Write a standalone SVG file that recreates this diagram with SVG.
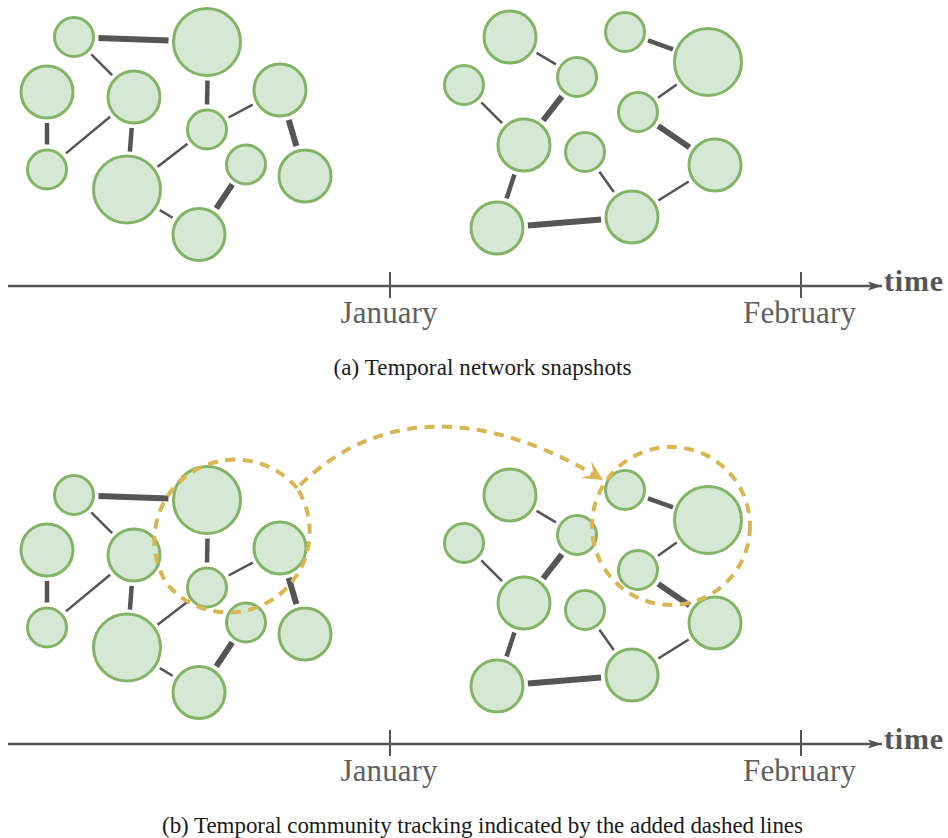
<svg xmlns="http://www.w3.org/2000/svg" width="948" height="838" viewBox="0 0 948 838">
  <style>
    .node circle { fill: #d5e8d4; stroke: #82b366; stroke-width: 3; }
    .edges line { stroke: #555555; stroke-linecap: butt; }
    .e1 { stroke-width: 2.5; }
    .e2 { stroke-width: 4.5; }
    .e3 { stroke-width: 6; }
    .axis { stroke: #555555; stroke-width: 2.3; fill: none; }
    .tick { stroke: #555555; stroke-width: 2; }
    .month { font-family: "Liberation Serif", "Times New Roman", serif; font-size: 31px; fill: #606060; }
    .time { font-family: "Liberation Serif", "Times New Roman", serif; font-size: 30px; font-weight: bold; fill: #555555; }
    .caption { font-family: "Liberation Serif", "Times New Roman", serif; font-size: 23px; fill: #1a1a1a; text-anchor: middle; }
    .track { fill: none; stroke: #d9b654; stroke-width: 4; stroke-dasharray: 10 7.5; }
  </style>
  <defs>
    <marker id="axis-arrow" markerUnits="userSpaceOnUse" viewBox="-16 -6 17 12" refX="0" refY="0" markerWidth="17" markerHeight="12" orient="auto">
      <path d="M0,0 L-14,-4.5 L-11,0 L-14,4.5 Z" fill="#555555"/>
    </marker>
    <marker id="track-arrow" markerUnits="userSpaceOnUse" viewBox="-22 -12 23 24" refX="0" refY="0" markerWidth="23" markerHeight="24" orient="auto">
      <path d="M0,0 L-20,-10 L-11,0 L-20,10 Z" fill="#d9b654"/>
    </marker>
  </defs>

  <!-- ===== Panel (a): snapshots ===== -->
  <g id="panel-a">
    <g id="a-edges" class="edges">
      <!-- January -->
      <line class="e3" x1="98.5" y1="37.9" x2="168.5" y2="40.6"/>
      <line class="e1" x1="91.3" y1="54.3" x2="112.1" y2="75.1"/>
      <line class="e2" x1="47" y1="123" x2="47" y2="144.5"/>
      <line class="e1" x1="110.1" y1="116.8" x2="65.9" y2="153.4"/>
      <line class="e2" x1="131.7" y1="127.9" x2="129.9" y2="151.6"/>
      <line class="e2" x1="207.5" y1="80.5" x2="207" y2="104.5"/>
      <line class="e1" x1="228.6" y1="117.5" x2="252.7" y2="104.6"/>
      <line class="e1" x1="187.5" y1="143.8" x2="157.6" y2="166.7"/>
      <line class="e3" x1="288.7" y1="119.8" x2="296.4" y2="146.2"/>
      <line class="e1" x1="159.8" y1="210.1" x2="172.6" y2="217.8"/>
      <line class="e3" x1="232.3" y1="184.3" x2="216.3" y2="208.3"/>
      <!-- February -->
      <line class="e1" x1="536.6" y1="52.9" x2="556" y2="64.4"/>
      <line class="e2" x1="648" y1="40.3" x2="673" y2="49.3"/>
      <line class="e1" x1="676.7" y1="84.4" x2="658" y2="97.8"/>
      <line class="e1" x1="481.3" y1="102.3" x2="502.1" y2="123.1"/>
      <line class="e3" x1="561.9" y1="96.3" x2="543.1" y2="120.5"/>
      <line class="e3" x1="658.2" y1="125.9" x2="689.5" y2="147.4"/>
      <line class="e2" x1="514.4" y1="174.5" x2="506.6" y2="198.5"/>
      <line class="e3" x1="527.9" y1="225.5" x2="601.1" y2="219.5"/>
      <line class="e1" x1="599.4" y1="171.8" x2="613.8" y2="191.9"/>
      <line class="e1" x1="658.3" y1="200.5" x2="688.7" y2="181.5"/>
    </g>

    <g id="a-j1" class="node"><circle cx="74" cy="37" r="19.5"/></g>
    <g id="a-j2" class="node"><circle cx="207" cy="42" r="33.5"/></g>
    <g id="a-j3" class="node"><circle cx="47" cy="92" r="26"/></g>
    <g id="a-j4" class="node"><circle cx="134" cy="97" r="26"/></g>
    <g id="a-j5" class="node"><circle cx="207" cy="129.5" r="19.5"/></g>
    <g id="a-j6" class="node"><circle cx="280" cy="90" r="26"/></g>
    <g id="a-j7" class="node"><circle cx="47" cy="169.5" r="19.5"/></g>
    <g id="a-j8" class="node"><circle cx="127" cy="189.5" r="33.5"/></g>
    <g id="a-j9" class="node"><circle cx="246" cy="164.5" r="19.5"/></g>
    <g id="a-j10" class="node"><circle cx="305" cy="176" r="26"/></g>
    <g id="a-j11" class="node"><circle cx="199" cy="234.5" r="26"/></g>

    <g id="a-f1" class="node"><circle cx="510" cy="37" r="26"/></g>
    <g id="a-f2" class="node"><circle cx="625" cy="32" r="19.5"/></g>
    <g id="a-f3" class="node"><circle cx="708" cy="62" r="33.5"/></g>
    <g id="a-f4" class="node"><circle cx="464" cy="85" r="19.5"/></g>
    <g id="a-f5" class="node"><circle cx="577" cy="77" r="19.5"/></g>
    <g id="a-f6" class="node"><circle cx="638" cy="112" r="19.5"/></g>
    <g id="a-f7" class="node"><circle cx="524" cy="145" r="26"/></g>
    <g id="a-f8" class="node"><circle cx="585" cy="152" r="19.5"/></g>
    <g id="a-f9" class="node"><circle cx="715" cy="165" r="26"/></g>
    <g id="a-f10" class="node"><circle cx="497" cy="228" r="26"/></g>
    <g id="a-f11" class="node"><circle cx="632" cy="217" r="26"/></g>

    <g id="a-timeline">
      <line class="axis" x1="8" y1="286" x2="882" y2="286" marker-end="url(#axis-arrow)"/>
      <line class="tick" x1="390" y1="272" x2="390" y2="298"/>
      <line class="tick" x1="801" y1="272" x2="801" y2="298"/>
      <text class="time" x="884" y="291" textLength="59">time</text>
      <text class="month" x="340.5" y="323" textLength="97">January</text>
      <text class="month" x="743" y="323" textLength="113">February</text>
    </g>
    <text class="caption" x="482.5" y="375" textLength="298">(a) Temporal network snapshots</text>
  </g>

  <!-- ===== Panel (b): community tracking ===== -->
  <g id="panel-b">
    <g transform="translate(0,458)">
      <g id="b-edges" class="edges">
        <!-- January -->
        <line class="e3" x1="98.5" y1="37.9" x2="168.5" y2="40.6"/>
        <line class="e1" x1="91.3" y1="54.3" x2="112.1" y2="75.1"/>
        <line class="e2" x1="47" y1="123" x2="47" y2="144.5"/>
        <line class="e1" x1="110.1" y1="116.8" x2="65.9" y2="153.4"/>
        <line class="e2" x1="131.7" y1="127.9" x2="129.9" y2="151.6"/>
        <line class="e2" x1="207.5" y1="80.5" x2="207" y2="104.5"/>
        <line class="e1" x1="228.6" y1="117.5" x2="252.7" y2="104.6"/>
        <line class="e1" x1="187.5" y1="143.8" x2="157.6" y2="166.7"/>
        <line class="e3" x1="288.7" y1="119.8" x2="296.4" y2="146.2"/>
        <line class="e1" x1="159.8" y1="210.1" x2="172.6" y2="217.8"/>
        <line class="e3" x1="232.3" y1="184.3" x2="216.3" y2="208.3"/>
        <!-- February -->
        <line class="e1" x1="536.6" y1="52.9" x2="556" y2="64.4"/>
        <line class="e2" x1="648" y1="40.3" x2="673" y2="49.3"/>
        <line class="e1" x1="676.7" y1="84.4" x2="658" y2="97.8"/>
        <line class="e1" x1="481.3" y1="102.3" x2="502.1" y2="123.1"/>
        <line class="e3" x1="561.9" y1="96.3" x2="543.1" y2="120.5"/>
        <line class="e3" x1="658.2" y1="125.9" x2="689.5" y2="147.4"/>
        <line class="e2" x1="514.4" y1="174.5" x2="506.6" y2="198.5"/>
        <line class="e3" x1="527.9" y1="225.5" x2="601.1" y2="219.5"/>
        <line class="e1" x1="599.4" y1="171.8" x2="613.8" y2="191.9"/>
        <line class="e1" x1="658.3" y1="200.5" x2="688.7" y2="181.5"/>
      </g>

      <g id="b-j1" class="node"><circle cx="74" cy="37" r="19.5"/></g>
      <g id="b-j2" class="node"><circle cx="207" cy="42" r="33.5"/></g>
      <g id="b-j3" class="node"><circle cx="47" cy="92" r="26"/></g>
      <g id="b-j4" class="node"><circle cx="134" cy="97" r="26"/></g>
      <g id="b-j5" class="node"><circle cx="207" cy="129.5" r="19.5"/></g>
      <g id="b-j6" class="node"><circle cx="280" cy="90" r="26"/></g>
      <g id="b-j7" class="node"><circle cx="47" cy="169.5" r="19.5"/></g>
      <g id="b-j8" class="node"><circle cx="127" cy="189.5" r="33.5"/></g>
      <g id="b-j9" class="node"><circle cx="246" cy="164.5" r="19.5"/></g>
      <g id="b-j10" class="node"><circle cx="305" cy="176" r="26"/></g>
      <g id="b-j11" class="node"><circle cx="199" cy="234.5" r="26"/></g>

      <g id="b-f1" class="node"><circle cx="510" cy="37" r="26"/></g>
      <g id="b-f2" class="node"><circle cx="625" cy="32" r="19.5"/></g>
      <g id="b-f3" class="node"><circle cx="708" cy="62" r="33.5"/></g>
      <g id="b-f4" class="node"><circle cx="464" cy="85" r="19.5"/></g>
      <g id="b-f5" class="node"><circle cx="577" cy="77" r="19.5"/></g>
      <g id="b-f6" class="node"><circle cx="638" cy="112" r="19.5"/></g>
      <g id="b-f7" class="node"><circle cx="524" cy="145" r="26"/></g>
      <g id="b-f8" class="node"><circle cx="585" cy="152" r="19.5"/></g>
      <g id="b-f9" class="node"><circle cx="715" cy="165" r="26"/></g>
      <g id="b-f10" class="node"><circle cx="497" cy="228" r="26"/></g>
      <g id="b-f11" class="node"><circle cx="632" cy="217" r="26"/></g>

      <g id="b-timeline">
        <line class="axis" x1="8" y1="286" x2="882" y2="286" marker-end="url(#axis-arrow)"/>
        <line class="tick" x1="390" y1="272" x2="390" y2="298"/>
        <line class="tick" x1="801" y1="272" x2="801" y2="298"/>
        <text class="time" x="884" y="291" textLength="59">time</text>
        <text class="month" x="340.5" y="323" textLength="97">January</text>
        <text class="month" x="743" y="323" textLength="113">February</text>
      </g>
    </g>

    <!-- community outlines and the tracking arc -->
    <g id="b-tracking">
      <path class="track" d="M297,488 A81,81 0 0 0 167,584 A81,81 0 0 0 297,488 C394,391 513,425 603,480" marker-end="url(#track-arrow)"/>
      <circle class="track" cx="671" cy="526" r="79"/>
    </g>

    <text class="caption" x="482.5" y="833" textLength="641">(b) Temporal community tracking indicated by the added dashed lines</text>
  </g>
</svg>
